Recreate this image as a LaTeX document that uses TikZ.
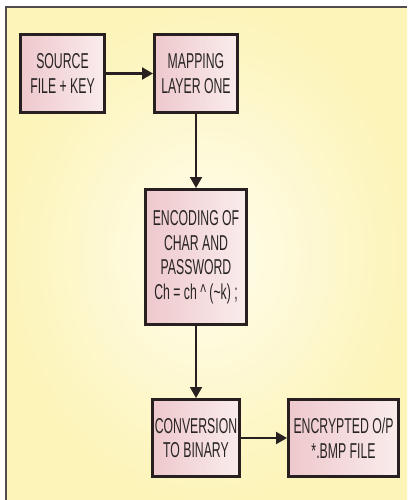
\documentclass[tikz,border=0pt]{standalone}
\usepackage{fontspec}
\setmainfont{Liberation Sans}[FakeStretch=0.57]
\usetikzlibrary{arrows.meta}
\definecolor{edge}{RGB}{40,32,32}
\definecolor{txt}{RGB}{40,36,36}
\definecolor{pinkL}{RGB}{238,200,204}
\definecolor{pinkR}{RGB}{250,236,236}
\definecolor{bgOut}{RGB}{252,244,185}
\definecolor{bgIn}{RGB}{255,253,238}
\tikzset{
  blk/.style={draw=edge, line width=3pt, left color=pinkL, right color=pinkR,
    inner sep=0pt, align=center, text=txt,
    font=\fontsize{21.5}{24.5}\selectfont},
  conn/.style={draw=edge, line width=2.2pt, -{Triangle[length=11pt,width=12pt]}}
}
\begin{document}
\begin{tikzpicture}[x=1pt,y=-1pt]
\useasboundingbox (0,0) rectangle (407,500);
\fill[white] (0,0) rectangle (407,500);
\shade[inner color=bgIn, outer color=bgOut] (6,7) rectangle (407,500);
\draw[edge!80, line width=1.5pt] (6,500) -- (6,7) -- (407,7);
\node[blk, minimum width=84pt, minimum height=78pt] (src) at (62.5,73.5) {SOURCE\\FILE + KEY};
\node[blk, minimum width=83pt, minimum height=78pt] (map) at (196,73.5) {MAPPING\\LAYER ONE};
\node[blk, minimum width=101pt, minimum height=135pt] (enc) at (196,257) {ENCODING OF\\CHAR AND\\PASSWORD\\Ch = ch \^{} (\~{}k) ;};
\node[blk, minimum width=87pt, minimum height=77pt] (bin) at (196,438) {CONVERSION\\TO BINARY};
\node[blk, minimum width=110pt, minimum height=77pt] (out) at (343.5,438) {ENCRYPTED O/P\\*.BMP FILE};
\draw[conn] (src) -- (map);
\draw[conn, line width=1.8pt] (map) -- (enc);
\draw[conn, line width=1.8pt] (enc) -- (bin);
\draw[conn] (bin) -- (out);
\end{tikzpicture}
\end{document}
